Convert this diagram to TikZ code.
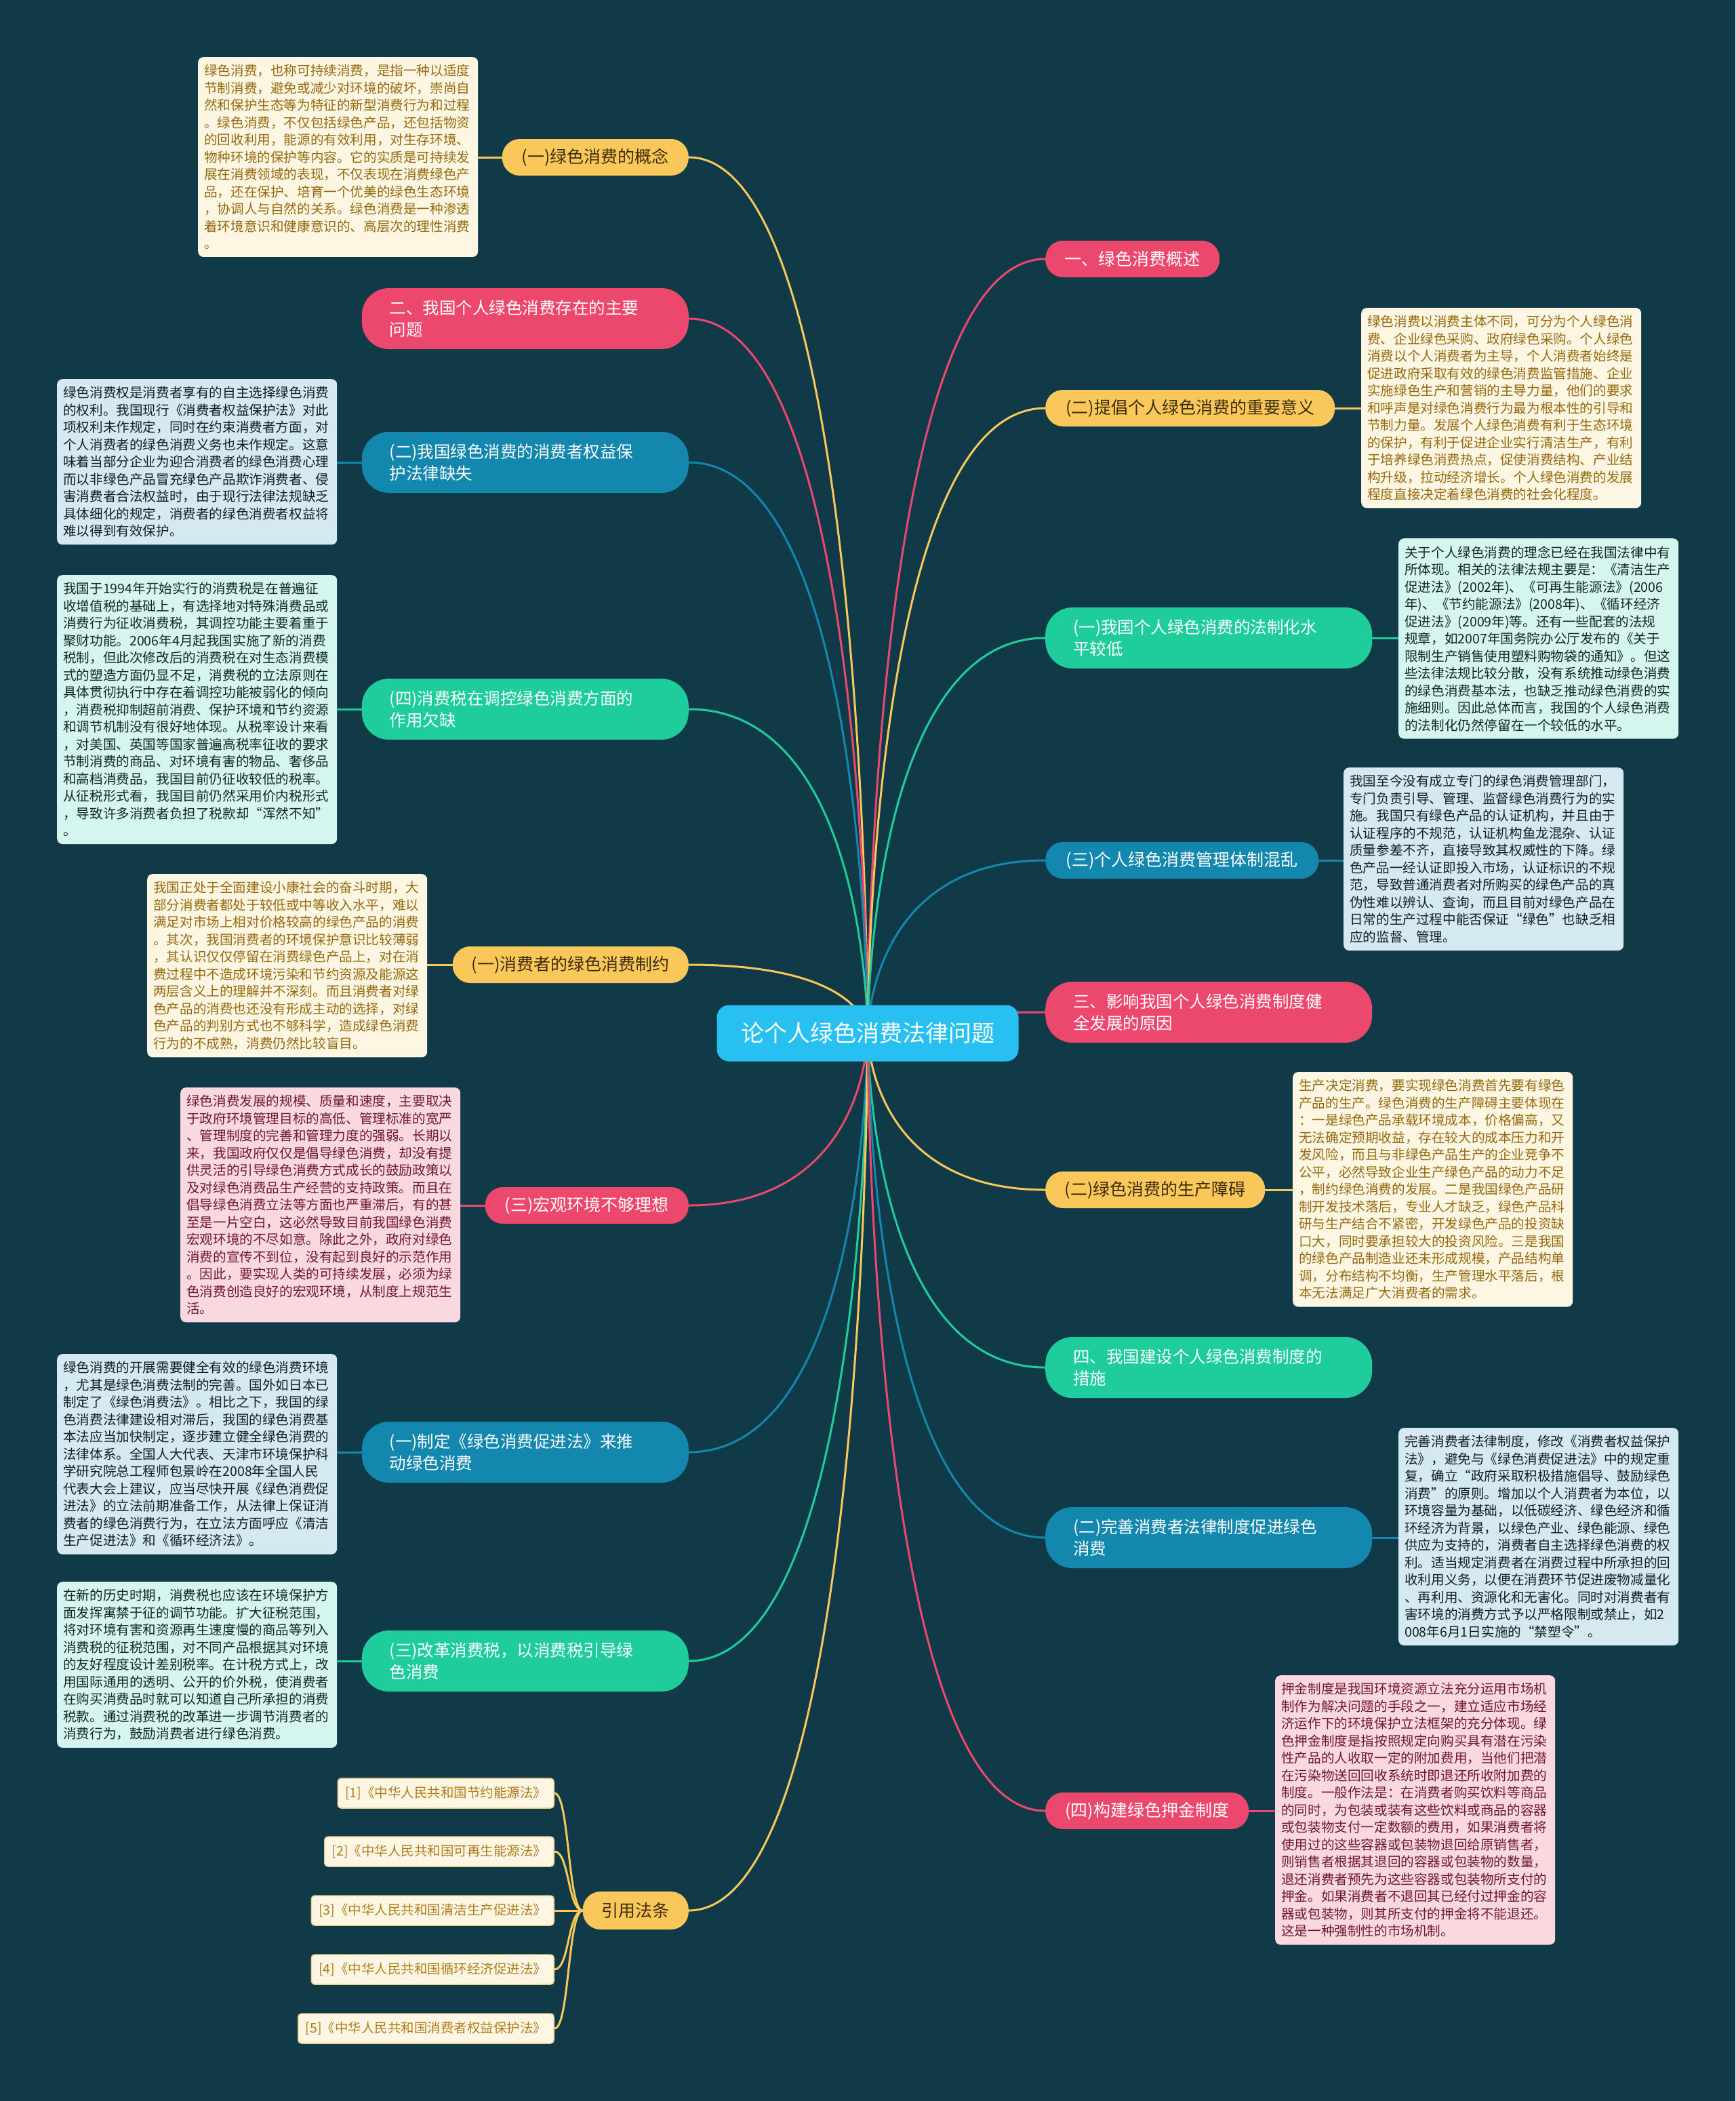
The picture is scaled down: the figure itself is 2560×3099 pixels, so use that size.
\documentclass[tikz,border=0pt]{standalone}
\usepackage{fontspec}
\newfontfamily\cjk{Noto Sans CJK SC}
\usetikzlibrary{calc}
\pgfdeclarelayer{bgl}
\pgfdeclarelayer{edges}
\pgfsetlayers{bgl,edges,main}
\definecolor{bgc}{RGB}{16,58,72}
\definecolor{cP}{RGB}{236,72,110}
\definecolor{cY}{RGB}{250,200,90}
\definecolor{cG}{RGB}{30,205,155}
\definecolor{cB}{RGB}{20,135,175}
\definecolor{cC}{RGB}{40,192,240}
\definecolor{tY}{RGB}{60,45,10}
\definecolor{fCr}{RGB}{253,246,226}
\definecolor{tCr}{RGB}{150,105,15}
\definecolor{fBl}{RGB}{212,233,240}
\definecolor{tBl}{RGB}{20,30,40}
\definecolor{fMi}{RGB}{212,246,238}
\definecolor{tMi}{RGB}{20,40,35}
\definecolor{fPk}{RGB}{250,216,224}
\definecolor{tPk}{RGB}{110,25,45}
\definecolor{rfB}{RGB}{232,205,140}
\definecolor{rfT}{RGB}{175,125,30}
\tikzset{
  bone/.style={rounded corners=26pt, minimum height=54pt, inner xsep=0pt, inner ysep=0pt,
    font=\cjk\fontsize{25}{32}\selectfont, text=white},
  btwo/.style={rounded corners=40pt, minimum height=90pt, text width=400pt, inner xsep=41pt,
    inner ysep=0pt, align=left, font=\cjk\fontsize{24.5}{32}\selectfont, text=white},
  note/.style={anchor=north west, rounded corners=8pt, text width=395pt, inner xsep=9pt,
    inner ysep=11pt, align=left, font=\cjk\fontsize{19.6}{25.5}\selectfont},
  ncr/.style={note, fill=fCr, text=tCr},
  nbl/.style={note, fill=fBl, text=tBl},
  nmi/.style={note, fill=fMi, text=tMi},
  npk/.style={note, fill=fPk, text=tPk},
  refn/.style={anchor=east, draw=rfB, line width=1.5pt, fill=fCr, text=rfT, rounded corners=5pt,
    minimum height=44pt, inner xsep=11pt, inner ysep=0pt, font=\cjk\fontsize{19.5}{24}\selectfont},
  link/.style={line width=3pt}
}
\begin{document}
\begin{tikzpicture}[x=1pt,y=-1pt]
\begin{pgfonlayer}{bgl}
\fill[bgc] (0,0) rectangle (2560,3099);
\end{pgfonlayer}
\useasboundingbox (0,0) rectangle (2560,3099);

% center
\node[rounded corners=18pt, fill=cC, text=white, minimum width=445pt, minimum height=83pt,
  font=\cjk\fontsize{34}{40}\selectfont] (c) at (1280,1524) {论个人绿色消费法律问题};

% left branches
\node[bone, fill=cY, text=tY, minimum width=275pt, anchor=east] (L1) at (1016,232) {(一)绿色消费的概念};
\node[btwo, fill=cP, anchor=east] (L2) at (1016,470) {二、我国个人绿色消费存在的主要\\问题};
\node[btwo, fill=cB, anchor=east] (L3) at (1016,682) {(二)我国绿色消费的消费者权益保\\护法律缺失};
\node[btwo, fill=cG, anchor=east] (L4) at (1016,1046) {(四)消费税在调控绿色消费方面的\\作用欠缺};
\node[bone, fill=cY, text=tY, minimum width=348pt, anchor=east] (L5) at (1016,1423) {(一)消费者的绿色消费制约};
\node[bone, fill=cP, minimum width=300pt, anchor=east] (L6) at (1016,1778) {(三)宏观环境不够理想};
\node[btwo, fill=cB, anchor=east] (L7) at (1016,2142) {(一)制定《绿色消费促进法》来推\\动绿色消费};
\node[btwo, fill=cG, anchor=east] (L8) at (1016,2450) {(三)改革消费税，以消费税引导绿\\色消费};
\node[bone, fill=cY, text=tY, minimum width=156pt, minimum height=56pt, anchor=east] (L9) at (1016,2818) {引用法条};

% right branches
\node[bone, fill=cP, minimum width=257pt, anchor=west] (R1) at (1542,382) {一、绿色消费概述};
\node[bone, fill=cY, text=tY, minimum width=427pt, anchor=west] (R2) at (1542,602) {(二)提倡个人绿色消费的重要意义};
\node[btwo, fill=cG, anchor=west] (R3) at (1542,941) {(一)我国个人绿色消费的法制化水\\平较低};
\node[bone, fill=cB, minimum width=403pt, anchor=west] (R4) at (1542,1269) {(三)个人绿色消费管理体制混乱};
\node[btwo, fill=cP, anchor=west] (R5) at (1542,1493) {三、影响我国个人绿色消费制度健\\全发展的原因};
\node[bone, fill=cY, text=tY, minimum width=324pt, anchor=west] (R6) at (1542,1755) {(二)绿色消费的生产障碍};
\node[btwo, fill=cG, anchor=west] (R7) at (1542,2017) {四、我国建设个人绿色消费制度的\\措施};
\node[btwo, fill=cB, anchor=west] (R8) at (1542,2268) {(二)完善消费者法律制度促进绿色\\消费};
\node[bone, fill=cP, minimum width=300pt, anchor=west] (R9) at (1542,2671) {(四)构建绿色押金制度};

% notes
\node[ncr] (N1) at (292,84) {绿色消费，也称可持续消费，是指一种以适度\\节制消费，避免或减少对环境的破坏，崇尚自\\然和保护生态等为特征的新型消费行为和过程\\。绿色消费，不仅包括绿色产品，还包括物资\\的回收利用，能源的有效利用，对生存环境、\\物种环境的保护等内容。它的实质是可持续发\\展在消费领域的表现，不仅表现在消费绿色产\\品，还在保护、培育一个优美的绿色生态环境\\，协调人与自然的关系。绿色消费是一种渗透\\着环境意识和健康意识的、高层次的理性消费\\。};
\node[ncr] (N2) at (2008,454) {绿色消费以消费主体不同，可分为个人绿色消\\费、企业绿色采购、政府绿色采购。个人绿色\\消费以个人消费者为主导，个人消费者始终是\\促进政府采取有效的绿色消费监管措施、企业\\实施绿色生产和营销的主导力量，他们的要求\\和呼声是对绿色消费行为最为根本性的引导和\\节制力量。发展个人绿色消费有利于生态环境\\的保护，有利于促进企业实行清洁生产，有利\\于培养绿色消费热点，促使消费结构、产业结\\构升级，拉动经济增长。个人绿色消费的发展\\程度直接决定着绿色消费的社会化程度。};
\node[nbl] (N3) at (84,559) {绿色消费权是消费者享有的自主选择绿色消费\\的权利。我国现行《消费者权益保护法》对此\\项权利未作规定，同时在约束消费者方面，对\\个人消费者的绿色消费义务也未作规定。这意\\味着当部分企业为迎合消费者的绿色消费心理\\而以非绿色产品冒充绿色产品欺诈消费者、侵\\害消费者合法权益时，由于现行法律法规缺乏\\具体细化的规定，消费者的绿色消费者权益将\\难以得到有效保护。};
\node[nmi] (N4) at (2063,794) {关于个人绿色消费的理念已经在我国法律中有\\所体现。相关的法律法规主要是：《清洁生产\\促进法》(2002年)、《可再生能源法》(2006\\年)、《节约能源法》(2008年)、《循环经济\\促进法》(2009年)等。还有一些配套的法规\\规章，如2007年国务院办公厅发布的《关于\\限制生产销售使用塑料购物袋的通知》。但这\\些法律法规比较分散，没有系统推动绿色消费\\的绿色消费基本法，也缺乏推动绿色消费的实\\施细则。因此总体而言，我国的个人绿色消费\\的法制化仍然停留在一个较低的水平。};
\node[nmi] (N5) at (84,848) {我国于1994年开始实行的消费税是在普遍征\\收增值税的基础上，有选择地对特殊消费品或\\消费行为征收消费税，其调控功能主要着重于\\聚财功能。2006年4月起我国实施了新的消费\\税制，但此次修改后的消费税在对生态消费模\\式的塑造方面仍显不足，消费税的立法原则在\\具体贯彻执行中存在着调控功能被弱化的倾向\\，消费税抑制超前消费、保护环境和节约资源\\和调节机制没有很好地体现。从税率设计来看\\，对美国、英国等国家普遍高税率征收的要求\\节制消费的商品、对环境有害的物品、奢侈品\\和高档消费品，我国目前仍征收较低的税率。\\从征税形式看，我国目前仍然采用价内税形式\\，导致许多消费者负担了税款却“浑然不知”\\。};
\node[nbl] (N6) at (1982,1132) {我国至今没有成立专门的绿色消费管理部门，\\专门负责引导、管理、监督绿色消费行为的实\\施。我国只有绿色产品的认证机构，并且由于\\认证程序的不规范，认证机构鱼龙混杂、认证\\质量参差不齐，直接导致其权威性的下降。绿\\色产品一经认证即投入市场，认证标识的不规\\范，导致普通消费者对所购买的绿色产品的真\\伪性难以辨认、查询，而且目前对绿色产品在\\日常的生产过程中能否保证“绿色”也缺乏相\\应的监督、管理。};
\node[ncr] (N7) at (217,1289) {我国正处于全面建设小康社会的奋斗时期，大\\部分消费者都处于较低或中等收入水平，难以\\满足对市场上相对价格较高的绿色产品的消费\\。其次，我国消费者的环境保护意识比较薄弱\\，其认识仅仅停留在消费绿色产品上，对在消\\费过程中不造成环境污染和节约资源及能源这\\两层含义上的理解并不深刻。而且消费者对绿\\色产品的消费也还没有形成主动的选择，对绿\\色产品的判别方式也不够科学，造成绿色消费\\行为的不成熟，消费仍然比较盲目。};
\node[ncr] (N8) at (1907,1581) {生产决定消费，要实现绿色消费首先要有绿色\\产品的生产。绿色消费的生产障碍主要体现在\\：一是绿色产品承载环境成本，价格偏高，又\\无法确定预期收益，存在较大的成本压力和开\\发风险，而且与非绿色产品生产的企业竞争不\\公平，必然导致企业生产绿色产品的动力不足\\，制约绿色消费的发展。二是我国绿色产品研\\制开发技术落后，专业人才缺乏，绿色产品科\\研与生产结合不紧密，开发绿色产品的投资缺\\口大，同时要承担较大的投资风险。三是我国\\的绿色产品制造业还未形成规模，产品结构单\\调，分布结构不均衡，生产管理水平落后，根\\本无法满足广大消费者的需求。};
\node[npk] (N9) at (266,1604) {绿色消费发展的规模、质量和速度，主要取决\\于政府环境管理目标的高低、管理标准的宽严\\、管理制度的完善和管理力度的强弱。长期以\\来，我国政府仅仅是倡导绿色消费，却没有提\\供灵活的引导绿色消费方式成长的鼓励政策以\\及对绿色消费品生产经营的支持政策。而且在\\倡导绿色消费立法等方面也严重滞后，有的甚\\至是一片空白，这必然导致目前我国绿色消费\\宏观环境的不尽如意。除此之外，政府对绿色\\消费的宣传不到位，没有起到良好的示范作用\\。因此，要实现人类的可持续发展，必须为绿\\色消费创造良好的宏观环境，从制度上规范生\\活。};
\node[nbl] (N10) at (84,1997) {绿色消费的开展需要健全有效的绿色消费环境\\，尤其是绿色消费法制的完善。国外如日本已\\制定了《绿色消费法》。相比之下，我国的绿\\色消费法律建设相对滞后，我国的绿色消费基\\本法应当加快制定，逐步建立健全绿色消费的\\法律体系。全国人大代表、天津市环境保护科\\学研究院总工程师包景岭在2008年全国人民\\代表大会上建议，应当尽快开展《绿色消费促\\进法》的立法前期准备工作，从法律上保证消\\费者的绿色消费行为，在立法方面呼应《清洁\\生产促进法》和《循环经济法》。};
\node[nmi] (N11) at (84,2333) {在新的历史时期，消费税也应该在环境保护方\\面发挥寓禁于征的调节功能。扩大征税范围，\\将对环境有害和资源再生速度慢的商品等列入\\消费税的征税范围，对不同产品根据其对环境\\的友好程度设计差别税率。在计税方式上，改\\用国际通用的透明、公开的价外税，使消费者\\在购买消费品时就可以知道自己所承担的消费\\税款。通过消费税的改革进一步调节消费者的\\消费行为，鼓励消费者进行绿色消费。};
\node[nbl] (N12) at (2063,2106) {完善消费者法律制度，修改《消费者权益保护\\法》，避免与《绿色消费促进法》中的规定重\\复，确立“政府采取积极措施倡导、鼓励绿色\\消费”的原则。增加以个人消费者为本位，以\\环境容量为基础，以低碳经济、绿色经济和循\\环经济为背景，以绿色产业、绿色能源、绿色\\供应为支持的，消费者自主选择绿色消费的权\\利。适当规定消费者在消费过程中所承担的回\\收利用义务，以便在消费环节促进废物减量化\\、再利用、资源化和无害化。同时对消费者有\\害环境的消费方式予以严格限制或禁止，如2\\008年6月1日实施的“禁塑令”。};
\node[npk] (N13) at (1881,2471) {押金制度是我国环境资源立法充分运用市场机\\制作为解决问题的手段之一，建立适应市场经\\济运作下的环境保护立法框架的充分体现。绿\\色押金制度是指按照规定向购买具有潜在污染\\性产品的人收取一定的附加费用，当他们把潜\\在污染物送回回收系统时即退还所收附加费的\\制度。一般作法是：在消费者购买饮料等商品\\的同时，为包装或装有这些饮料或商品的容器\\或包装物支付一定数额的费用，如果消费者将\\使用过的这些容器或包装物退回给原销售者，\\则销售者根据其退回的容器或包装物的数量，\\退还消费者预先为这些容器或包装物所支付的\\押金。如果消费者不退回其已经付过押金的容\\器或包装物，则其所支付的押金将不能退还。\\这是一种强制性的市场机制。};

% references
\node[refn] (F1) at (818,2645) {[1]《中华人民共和国节约能源法》};
\node[refn] (F2) at (818,2731) {[2]《中华人民共和国可再生能源法》};
\node[refn] (F3) at (818,2818) {[3]《中华人民共和国清洁生产促进法》};
\node[refn] (F4) at (818,2905) {[4]《中华人民共和国循环经济促进法》};
\node[refn] (F5) at (818,2992) {[5]《中华人民共和国消费者权益保护法》};

\begin{pgfonlayer}{edges}
\foreach \n/\col in {L1/cY,L2/cP,L3/cB,L4/cG,L5/cY,L6/cP,L7/cB,L8/cG,L9/cY}
  \draw[link,\col] (\n.east) .. controls (\n.east -| c.center) and (c.center) .. (c.center);
\foreach \n/\col in {R1/cP,R2/cY,R3/cG,R4/cB,R5/cP,R6/cY,R7/cG,R8/cB,R9/cP}
  \draw[link,\col] (\n.west) .. controls (\n.west -| c.center) and (c.center) .. (c.center);
\foreach \b/\n/\col in {L1/N1/cY,L3/N3/cB,L4/N5/cG,L5/N7/cY,L6/N9/cP,L7/N10/cB,L8/N11/cG}
  \draw[link,\col] (\b.west) -- (\b.west -| \n.east);
\foreach \b/\n/\col in {R2/N2/cY,R3/N4/cG,R4/N6/cB,R6/N8/cY,R8/N12/cB,R9/N13/cP}
  \draw[link,\col] (\b.east) -- (\b.east -| \n.west);
\foreach \f in {F1,F2,F3,F4,F5}
  \draw[link,cY] (L9.west) .. controls ($(L9.west)+(-22,0)$) and ($(\f.east)+(22,0)$) .. (\f.east);
\end{pgfonlayer}
\end{tikzpicture}
\end{document}
